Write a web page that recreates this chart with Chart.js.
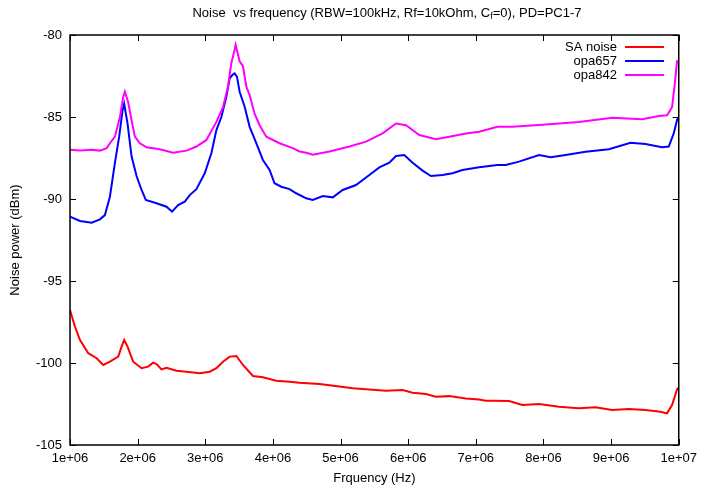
<!DOCTYPE html>
<html>
<head>
<meta charset="utf-8">
<script src="https://cdn.jsdelivr.net/npm/chart.js@4.4.1/dist/chart.umd.min.js"></script>
<style>
  html, body { margin: 0; padding: 0; background: #fff; }
  #wrap { width: 703px; height: 487px; }
</style>
</head>
<body>
<div id="wrap"><canvas id="chart" width="703" height="487"></canvas></div>
<script>
// frequency (Hz) / noise power (dBm)
const saFreq = [1.000e6, 1.074e6, 1.148e6, 1.270e6, 1.394e6, 1.491e6, 1.590e6, 1.713e6, 1.763e6, 1.801e6,
  1.851e6, 1.934e6, 2.058e6, 2.155e6, 2.229e6, 2.279e6, 2.353e6, 2.427e6, 2.574e6, 2.722e6,
  2.918e6, 3.066e6, 3.164e6, 3.262e6, 3.361e6, 3.460e6, 3.557e6, 3.705e6, 3.852e6, 4.049e6,
  4.246e6, 4.393e6, 4.688e6, 4.983e6, 5.180e6, 5.377e6, 5.671e6, 5.917e6, 6.065e6, 6.263e6,
  6.409e6, 6.606e6, 6.853e6, 7.049e6, 7.147e6, 7.245e6, 7.492e6, 7.688e6, 7.934e6, 8.229e6,
  8.524e6, 8.770e6, 9.016e6, 9.262e6, 9.508e6, 9.730e6, 9.827e6, 9.901e6, 9.975e6, 1.000e7];
const saNoise = [-96.77, -97.79, -98.60, -99.40, -99.71, -100.12, -99.92, -99.61, -99.00, -98.60,
  -99.00, -99.92, -100.32, -100.22, -99.98, -100.06, -100.39, -100.29, -100.47, -100.53,
  -100.63, -100.53, -100.32, -99.92, -99.61, -99.57, -100.12, -100.79, -100.87, -101.08,
  -101.14, -101.20, -101.28, -101.44, -101.54, -101.60, -101.69, -101.65, -101.81, -101.89,
  -102.06, -102.02, -102.16, -102.22, -102.30, -102.30, -102.32, -102.56, -102.50, -102.67,
  -102.76, -102.70, -102.87, -102.80, -102.87, -102.97, -103.07, -102.56, -101.60, -101.50];

const opa657Freq = [1.000e6, 1.148e6, 1.320e6, 1.443e6, 1.516e6, 1.590e6, 1.664e6, 1.727e6, 1.778e6, 1.801e6,
  1.851e6, 1.910e6, 1.984e6, 2.058e6, 2.121e6, 2.279e6, 2.427e6, 2.509e6, 2.598e6, 2.697e6,
  2.770e6, 2.869e6, 2.992e6, 3.091e6, 3.164e6, 3.238e6, 3.312e6, 3.361e6, 3.400e6, 3.434e6,
  3.468e6, 3.508e6, 3.582e6, 3.656e6, 3.754e6, 3.852e6, 3.951e6, 4.024e6, 4.123e6, 4.246e6,
  4.344e6, 4.492e6, 4.590e6, 4.737e6, 4.885e6, 5.032e6, 5.228e6, 5.426e6, 5.574e6, 5.721e6,
  5.820e6, 5.942e6, 6.065e6, 6.213e6, 6.336e6, 6.508e6, 6.655e6, 6.802e6, 7.049e6, 7.319e6,
  7.443e6, 7.639e6, 7.934e6, 8.107e6, 8.328e6, 8.623e6, 8.967e6, 9.287e6, 9.508e6, 9.753e6,
  9.852e6, 9.926e6, 9.975e6, 1.000e7];
const opa657 = [-91.08, -91.34, -91.44, -91.24, -90.98, -89.86, -87.80, -86.20, -84.57, -84.20,
  -85.40, -87.40, -88.60, -89.45, -90.06, -90.26, -90.47, -90.77, -90.37, -90.16,
  -89.76, -89.40, -88.43, -87.20, -85.80, -85.00, -83.76, -82.64, -82.44, -82.34,
  -82.54, -83.46, -84.37, -85.60, -86.60, -87.62, -88.23, -89.04, -89.25, -89.40,
  -89.65, -89.96, -90.06, -89.82, -89.90, -89.45, -89.15, -88.54, -88.07, -87.79,
  -87.38, -87.32, -87.79, -88.27, -88.60, -88.54, -88.43, -88.23, -88.07, -87.93,
  -87.93, -87.72, -87.32, -87.46, -87.32, -87.12, -86.97, -86.57, -86.65, -86.85,
  -86.80, -86.00, -85.18, -85.00];

const opa842Freq = [1.000e6, 1.148e6, 1.320e6, 1.443e6, 1.541e6, 1.590e6, 1.664e6, 1.738e6, 1.786e6, 1.811e6,
  1.860e6, 1.910e6, 1.959e6, 2.033e6, 2.132e6, 2.328e6, 2.524e6, 2.722e6, 2.869e6, 3.017e6,
  3.164e6, 3.262e6, 3.335e6, 3.386e6, 3.434e6, 3.449e6, 3.508e6, 3.557e6, 3.607e6, 3.656e6,
  3.729e6, 3.803e6, 3.902e6, 4.098e6, 4.294e6, 4.393e6, 4.492e6, 4.590e6, 4.836e6, 5.131e6,
  5.377e6, 5.622e6, 5.820e6, 5.968e6, 6.164e6, 6.409e6, 6.606e6, 6.853e6, 7.049e6, 7.319e6,
  7.541e6, 8.033e6, 8.524e6, 9.016e6, 9.458e6, 9.705e6, 9.827e6, 9.901e6, 9.941e6, 9.975e6, 1.000e7];
const opa842 = [-87.00, -87.05, -87.00, -87.05, -86.90, -86.60, -86.20, -85.00, -83.80, -83.45,
  -84.10, -85.20, -86.20, -86.60, -86.85, -86.97, -87.18, -87.05, -86.80, -86.40,
  -85.30, -84.40, -83.15, -81.70, -80.90, -80.60, -81.60, -81.90, -83.15, -83.66,
  -84.80, -85.50, -86.20, -86.60, -86.90, -87.10, -87.18, -87.30, -87.10, -86.80,
  -86.50, -86.00, -85.40, -85.50, -86.10, -86.36, -86.20, -86.00, -85.90, -85.60,
  -85.60, -85.45, -85.30, -85.04, -85.14, -84.94, -84.90, -84.40, -83.00, -81.60, -81.60];

const seriesNames = ["SA noise", "opa657", "opa842"];
const seriesColors = ["#ff0000", "#0000ff", "#ff00ff"];
const xTicks = [1e6, 2e6, 3e6, 4e6, 5e6, 6e6, 7e6, 8e6, 9e6, 1e7];
const yTicks = [-105, -100, -95, -90, -85, -80];

const FONT = "'Liberation Sans', Arial, sans-serif";

function pts(xs, ys) {
  return xs.map((x, i) => ({ x: x, y: ys[i] }));
}

function expLabel(v) {
  // gnuplot style: 1e+06
  const [m, e] = v.toExponential(0).split("e");
  return m + "e" + e[0] + e.slice(1).padStart(2, "0");
}

// title with a subscript f in C_f
const titlePlugin = {
  id: "gnuTitle",
  afterDraw(chart) {
    const ctx = chart.ctx;
    const parts = [
      ["Noise  vs frequency (RBW=100kHz, Rf=10kOhm, C", 13, 0],
      ["f", 9, 4],
      ["=0), PD=PC1-7", 13, 0]
    ];
    ctx.save();
    ctx.fillStyle = "#000";
    ctx.textBaseline = "middle";
    ctx.textAlign = "left";
    let total = 0;
    parts.forEach(p => { ctx.font = p[1] + "px " + FONT; total += ctx.measureText(p[0]).width; });
    let x = 387 - total / 2;
    parts.forEach(p => {
      ctx.font = p[1] + "px " + FONT;
      ctx.fillText(p[0], x, 13 + p[2]);
      x += ctx.measureText(p[0]).width;
    });
    ctx.restore();
  }
};

// border box + inward ticks on all four sides
const framePlugin = {
  id: "frame",
  afterDatasetsDraw(chart) {
    const { ctx, chartArea: a, scales } = chart;
    ctx.save();
    ctx.strokeStyle = "#000";
    ctx.lineWidth = 1;
    ctx.beginPath();
    scales.x.ticks.forEach(t => {
      const px = Math.round(scales.x.getPixelForValue(t.value)) + 0.5;
      ctx.moveTo(px, a.bottom); ctx.lineTo(px, a.bottom - 6);
      ctx.moveTo(px, a.top); ctx.lineTo(px, a.top + 6);
    });
    scales.y.ticks.forEach(t => {
      const py = Math.round(scales.y.getPixelForValue(t.value)) + 0.5;
      ctx.moveTo(a.left, py); ctx.lineTo(a.left + 6, py);
      ctx.moveTo(a.right, py); ctx.lineTo(a.right - 6, py);
    });
    ctx.stroke();
    ctx.lineWidth = 1.5;
    ctx.strokeRect(a.left, a.top, a.right - a.left, a.bottom - a.top);
    ctx.restore();
  }
};

// gnuplot-like key: text right-aligned, sample line to the right
const keyPlugin = {
  id: "key",
  afterDatasetsDraw(chart) {
    const ctx = chart.ctx;
    ctx.save();
    ctx.font = "13px " + FONT;
    ctx.textAlign = "right";
    ctx.textBaseline = "middle";
    chart.data.datasets.forEach((ds, i) => {
      const y = 47 + i * 14;
      ctx.fillStyle = "#000";
      ctx.fillText(ds.label, 617, y);
      ctx.strokeStyle = ds.borderColor;
      ctx.lineWidth = 2;
      ctx.beginPath();
      ctx.moveTo(625, y); ctx.lineTo(664, y);
      ctx.stroke();
    });
    ctx.restore();
  }
};

const data = {
  datasets: [
    { label: seriesNames[0], data: pts(saFreq, saNoise), borderColor: seriesColors[0], order: 3 },
    { label: seriesNames[1], data: pts(opa657Freq, opa657), borderColor: seriesColors[1], order: 2 },
    { label: seriesNames[2], data: pts(opa842Freq, opa842), borderColor: seriesColors[2], order: 1 }
  ].map(d => Object.assign(d, { borderWidth: 2, pointRadius: 0, tension: 0, fill: false }))
};

new Chart(document.getElementById("chart"), {
  type: "line",
  data: data,
  options: {
    responsive: false,
    animation: false,
    layout: { padding: { top: 35, right: 23, left: 0, bottom: 0 } },
    plugins: { legend: { display: false }, title: { display: false }, tooltip: { enabled: false } },
    scales: {
      x: {
        type: "linear",
        min: 1e6, max: 1e7,
        grid: { display: false, drawTicks: false },
        border: { display: false },
        afterFit(s) { s.height = 42; },
        afterBuildTicks(s) { s.ticks = xTicks.map(v => ({ value: v })); },
        ticks: { padding: 6, color: "#000", font: { family: FONT, size: 13 }, maxRotation: 0, callback: v => expLabel(v) },
        title: { display: true, text: "Frquency (Hz)", color: "#000", font: { family: FONT, size: 13 }, padding: { top: 2, bottom: 1 } }
      },
      y: {
        min: -105, max: -80,
        grid: { display: false, drawTicks: false },
        border: { display: false },
        afterFit(s) { s.width = 70; },
        afterBuildTicks(s) { s.ticks = yTicks.map(v => ({ value: v })); },
        ticks: { padding: 8, color: "#000", font: { family: FONT, size: 13 } },
        title: { display: true, text: "Noise power (dBm)", color: "#000", font: { family: FONT, size: 13 }, padding: { top: 8, bottom: 0 } }
      }
    }
  },
  plugins: [titlePlugin, framePlugin, keyPlugin]
});
</script>
</body>
</html>
